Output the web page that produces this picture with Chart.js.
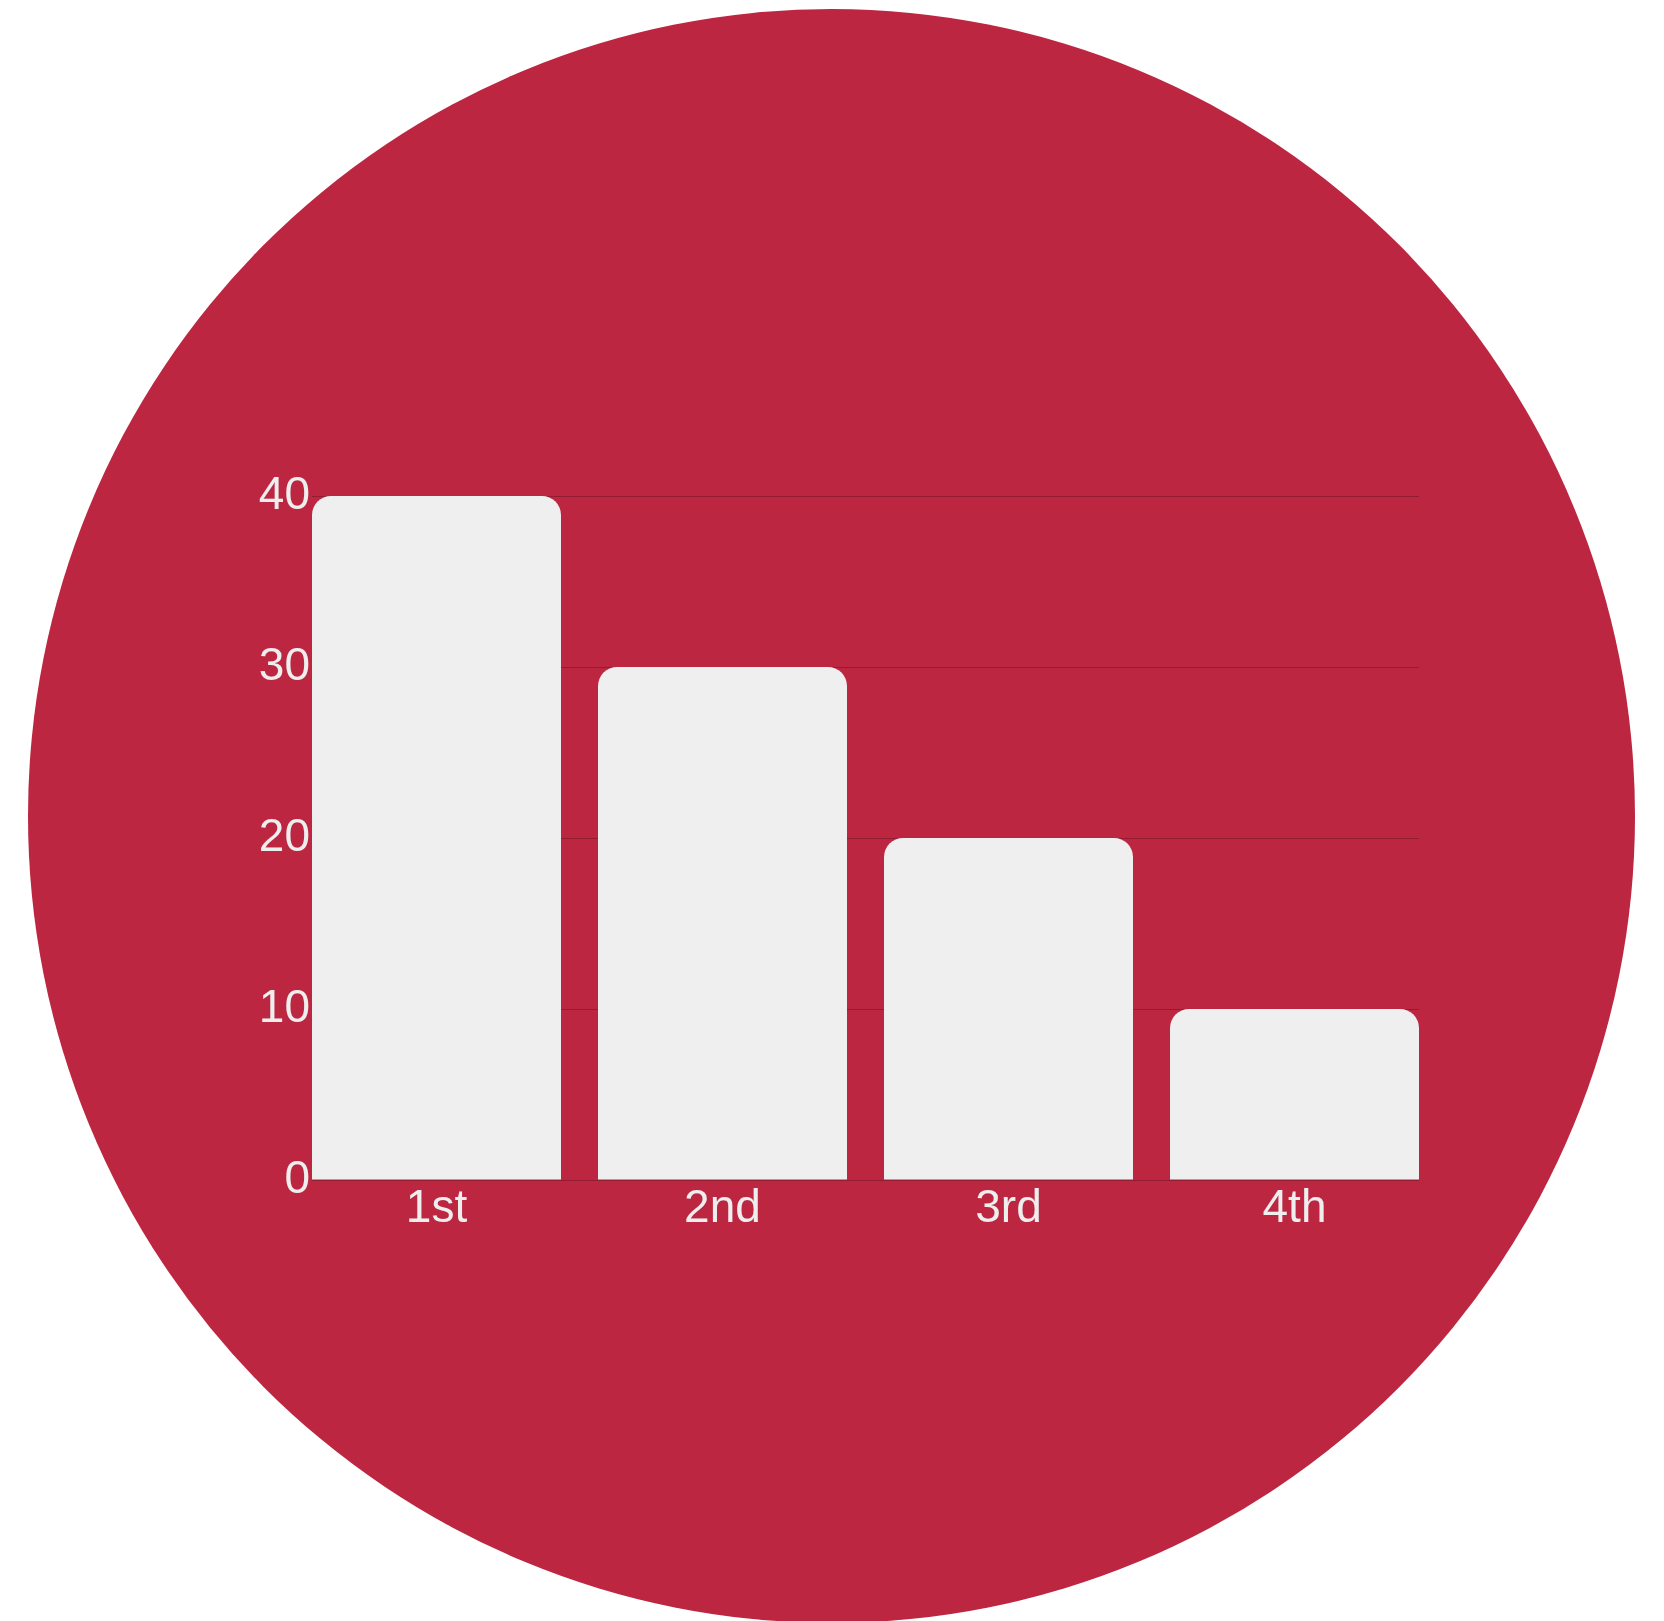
<!DOCTYPE html>
<html>
<head>
<meta charset="utf-8">
<script src="https://cdn.jsdelivr.net/npm/chart.js@4"></script>
<style>
    html, body {
        margin: 0;
        padding: 0;
        background: #ffffff;
        overflow: hidden;
    }
    #badge {
        position: absolute;
        left: 28px;
        top: 9px;
        width: 1607px;
        height: 1614px;
        border-radius: 50%;
        background: #bc2641;
    }
    #wrap {
        position: absolute;
        left: 0;
        top: 0;
        width: 1664px;
        height: 1621px;
    }
</style>
</head>
<body>
<div id="badge"></div>
<div id="wrap"><canvas id="chart"></canvas></div>
<script>
// chart data
const categories = ['1st', '2nd', '3rd', '4th'];
const values = [40, 30, 20, 10];
const yTicks = [0, 10, 20, 30, 40];

document.addEventListener('DOMContentLoaded', () => {
    const canvas = document.getElementById('chart');

    // bars sit on a linear x scale so the first bar starts right at the axis
    const points = values.map((v, i) => ({ x: i, y: v }));

    new Chart(canvas, {
        type: 'bar',
        data: {
            datasets: [{
                data: points,
                backgroundColor: '#efefef',
                borderWidth: 0,
                borderRadius: 19,
                barPercentage: 0.8706,
                categoryPercentage: 1
            }]
        },
        options: {
            responsive: true,
            maintainAspectRatio: false,
            animation: false,
            layout: {
                padding: { left: 242, right: 245, top: 496, bottom: 381 }
            },
            plugins: {
                legend: { display: false },
                tooltip: { enabled: false }
            },
            scales: {
                x: {
                    type: 'linear',
                    offset: false,
                    min: -0.4353,
                    max: 3.4353,
                    grid: { display: false, offset: false },
                    border: { display: false },
                    afterFit: (scale) => { scale.height = 60; },
                    ticks: {
                        stepSize: 1,
                        includeBounds: false,
                        autoSkip: false,
                        maxRotation: 0,
                        padding: -6,
                        color: '#eeeeee',
                        font: { family: '"Liberation Sans", Arial, sans-serif', size: 46 },
                        callback: (value) => categories[value] ?? null
                    }
                },
                y: {
                    min: yTicks[0],
                    max: yTicks[yTicks.length - 1],
                    grid: {
                        color: 'rgba(0, 0, 0, 0.22)',
                        lineWidth: 1,
                        drawTicks: false
                    },
                    border: { display: false },
                    afterFit: (scale) => { scale.width = 70; },
                    ticks: {
                        stepSize: 10,
                        padding: 2,
                        color: '#eeeeee',
                        font: { family: '"Liberation Sans", Arial, sans-serif', size: 46 }
                    }
                }
            }
        }
    });
});
</script>
</body>
</html>
